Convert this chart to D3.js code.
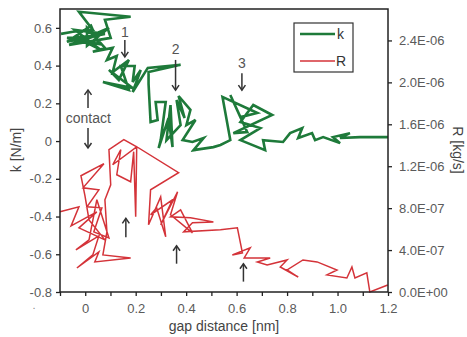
<!DOCTYPE html>
<html><head><meta charset="utf-8">
<script src="https://cdn.jsdelivr.net/npm/d3@7"></script>
<style>
html,body{margin:0;padding:0;background:#fff;}
text{font-family:"Liberation Sans",Arial,sans-serif;}
</style></head>
<body>
<svg id="c" width="467" height="337"></svg>
<script>
// ---- data ----
const kX = [-0.096,-0.049,0.030,-0.025,0.180,0.078,0.101,-0.064,0.042,-0.072,0.054,0.023,-0.072,0.078,-0.041,0.062,-0.017,0.094,0.007,0.007,0.078,0.030,0.109,0.086,0.125,0.109,0.173,0.133,0.094,0.188,0.070,0.173,0.141,0.196,0.188,0.220,0.188,0.248,0.378,0.251,0.251,0.259,0.287,0.279,0.319,0.299,0.291,0.330,0.346,0.338,0.322,0.378,0.362,0.394,0.370,0.417,0.401,0.437,0.386,0.425,0.469,0.429,0.508,0.536,0.575,0.544,0.682,0.615,0.575,0.642,0.587,0.741,0.666,0.615,0.694,0.615,0.713,0.705,0.784,0.812,0.860,0.844,0.899,0.911,0.943,1.010,0.982,1.049,1.010,1.089,1.200];
const kY = [0.568,0.579,0.589,0.685,0.659,0.643,0.547,0.510,0.558,0.547,0.515,0.611,0.526,0.568,0.589,0.483,0.536,0.600,0.505,0.600,0.494,0.473,0.494,0.430,0.451,0.366,0.430,0.324,0.377,0.281,0.313,0.271,0.398,0.398,0.313,0.377,0.260,0.388,0.404,0.366,0.303,0.101,0.112,0.207,0.207,0.005,-0.037,0.122,-0.032,0.191,0.005,0.085,0.218,0.122,0.239,0.165,0.085,0.112,0.005,-0.005,0.016,-0.048,-0.032,-0.021,0.005,0.234,0.149,0.127,0.244,0.048,0.042,0.138,0.191,0.101,0.069,0.005,-0.048,0.005,-0.005,0.042,0.069,0.016,0.042,0.005,0.021,-0.011,0.021,0.042,0.016,0.021,0.021];
const rX = [-0.100,-0.025,-0.056,0.046,-0.025,0.078,0.015,-0.001,-0.017,0.074,-0.009,0.054,0.007,0.066,0.034,0.094,0.046,0.015,-0.037,0.054,0.030,-0.033,0.054,0.038,0.180,0.070,0.086,0.078,0.101,0.094,0.153,0.204,0.109,0.141,0.125,0.180,0.192,0.200,0.204,0.370,0.259,0.251,0.299,0.319,0.283,0.259,0.346,0.299,0.366,0.338,0.425,0.378,0.338,0.417,0.508,0.425,0.390,0.536,0.603,0.623,0.583,0.654,0.630,0.733,0.682,0.721,0.800,0.773,0.844,0.800,0.863,0.919,0.998,0.958,1.037,1.057,1.069,1.116,1.128,1.199];
// R in units of 1e-7 kg/s
const rY = [7.65,8.13,6.31,7.65,6.12,4.97,6.88,9.18,11.09,12.24,9.94,9.75,8.13,8.03,5.74,5.16,8.80,4.97,4.02,5.35,3.54,2.29,3.82,2.87,3.25,3.54,5.74,8.80,10.23,13.58,14.53,13.86,12.14,13.58,11.19,10.52,13.39,7.17,13.86,11.38,9.75,6.41,9.08,5.26,8.03,7.36,8.80,6.41,9.56,7.36,5.64,7.84,7.17,7.08,6.69,6.60,5.74,5.93,6.12,3.73,3.54,4.21,3.25,3.25,2.87,2.58,3.06,2.39,1.43,2.10,3.06,2.87,2.10,1.63,1.34,2.39,1.34,1.82,0,0.67];
const xTicks = [-0.1,0,0.1,0.2,0.3,0.4,0.5,0.6,0.7,0.8,0.9,1.0,1.1,1.2];
const xLabels = [0,0.2,0.4,0.6,0.8,1.0,1.2];
const kTicks = [-0.8,-0.6,-0.4,-0.2,0,0.2,0.4,0.6];
const rTicks = [0,4,8,12,16,20,24];
// annotations: [x, k-from, k-to]
const numLabels = [["1",0.157,0.58],["2",0.358,0.485],["3",0.621,0.415]];
const downArrows = [[0.157,0.536,0.446],[0.358,0.43,0.27],[0.621,0.36,0.27],[0.011,0.069,-0.037]];
const upArrows = [[0.011,0.175,0.271],[0.161,-0.51,-0.41],[0.362,-0.65,-0.555],[0.627,-0.745,-0.65]];

// ---- chart ----
const svg = d3.select("#c");
const L=60,R=388,T=9,B=292;
const x = d3.scaleLinear([-0.1,1.2],[L,R]);
const yk = d3.scaleLinear([-0.8,0.7],[B,T]);
const yr = d3.scaleLinear([0,27],[B,T]);
const green="#1e7a3a", red="#d43339", tcol="#5a5a5a";

const line = (xs,ys,sc)=>d3.line().x((d,i)=>x(xs[i])).y((d,i)=>sc(ys[i]))(xs);

svg.append("path").attr("d",line(rX,rY,yr)).attr("fill","none").attr("stroke",red).attr("stroke-width",1.5);
svg.append("path").attr("d",line(kX,kY,yk)).attr("fill","none").attr("stroke",green).attr("stroke-width",2.6);

// frame
svg.append("rect").attr("x",L).attr("y",T).attr("width",R-L).attr("height",B-T).attr("fill","none").attr("stroke","#222").attr("stroke-width",1.5);

// axes
const isLab = d=>xLabels.some(v=>Math.abs(v-d)<1e-9);
const gx = svg.append("g").attr("transform",`translate(0,${B})`)
  .call(d3.axisBottom(x).tickValues(xTicks).tickSize(4).tickFormat(d=>!isLab(d)?"":(Math.abs(d)<1e-9?"0":d.toFixed(1))));
const gl = svg.append("g").attr("transform",`translate(${L},0)`)
  .call(d3.axisLeft(yk).tickValues(kTicks).tickSize(4).tickFormat(d=>Math.abs(d)<1e-9?"0":d.toFixed(1)));
const gr = svg.append("g").attr("transform",`translate(${R},0)`)
  .call(d3.axisRight(yr).tickValues(rTicks).tickSize(4).tickFormat(d=>{
    if(d===0) return "0.0E+00";
    const v=d*1e-7; const e=Math.floor(Math.log10(v)+1e-9); const m=v/Math.pow(10,e);
    return m.toFixed(1)+"E-"+String(-e).padStart(2,"0");
  }));
[gx,gl,gr].forEach(g=>{
  g.select(".domain").remove();
  g.selectAll("line").attr("stroke","#222").attr("stroke-width",1.3);
  g.selectAll("text").attr("fill",tcol).style("font-size","13px").style("font-family","Liberation Sans, Arial, sans-serif");
});
gx.selectAll("text").attr("dy","1.05em");
gl.selectAll("text").attr("x",-8);
gr.selectAll("text").attr("x",11);

// axis titles
svg.append("text").attr("x",224).attr("y",331).attr("text-anchor","middle").attr("fill","#444").style("font-size","14px").text("gap distance [nm]");
svg.append("text").attr("transform","translate(21,150) rotate(-90)").attr("text-anchor","middle").attr("fill","#444").style("font-size","14px").text("k [N/m]");
svg.append("text").attr("transform","translate(453,150) rotate(90)").attr("text-anchor","middle").attr("fill","#444").style("font-size","14px").text("R [kg/s]");
svg.append("text").attr("x",34).attr("y",309).attr("text-anchor","middle").attr("fill","#888").style("font-size","11px").text(".");

// legend
svg.append("rect").attr("x",294).attr("y",23).attr("width",59).attr("height",49).attr("fill","#fff").attr("stroke","#333").attr("stroke-width",1.2);
svg.append("line").attr("x1",300).attr("x2",335).attr("y1",34).attr("y2",34).attr("stroke",green).attr("stroke-width",2.6);
svg.append("line").attr("x1",300).attr("x2",335).attr("y1",61).attr("y2",61).attr("stroke",red).attr("stroke-width",1.5);
svg.append("text").attr("x",337).attr("y",39).attr("fill","#333").style("font-size","14px").text("k");
svg.append("text").attr("x",336).attr("y",66).attr("fill","#333").style("font-size","14px").text("R");

// annotations
const ann = svg.append("g").attr("stroke","#333").attr("stroke-width",1.5).attr("fill","none");
function arrow(xv,kFrom,kTo){
  const px=x(xv), y1=yk(kFrom), y2=yk(kTo);
  const dir = y2>y1?1:-1;
  ann.append("line").attr("x1",px).attr("x2",px).attr("y1",y1).attr("y2",y2);
  ann.append("path").attr("d",`M${px-3.5},${y2-dir*5}L${px},${y2}L${px+3.5},${y2-dir*5}`);
}
downArrows.forEach(a=>arrow(a[0],a[1],a[2]));
upArrows.forEach(a=>arrow(a[0],a[1],a[2]));
numLabels.forEach(n=>svg.append("text").attr("x",x(n[1])).attr("y",yk(n[2])).attr("dy","0.35em").attr("text-anchor","middle").attr("fill","#555").style("font-size","14px").text(n[0]));
svg.append("text").attr("x",x(0.012)).attr("y",yk(0.122)).attr("dy","0.35em").attr("text-anchor","middle").attr("fill","#555").style("font-size","14px").text("contact");
</script>
</body></html>
